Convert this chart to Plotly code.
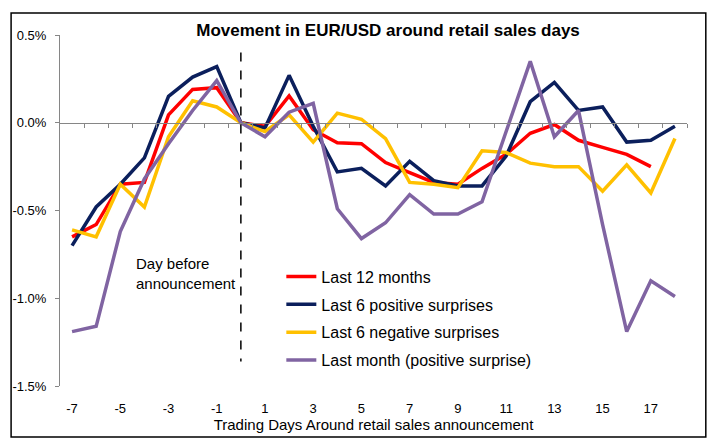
import plotly.graph_objects as go

days = list(range(-7, 19))
last_12_months = [-0.65, -0.58, -0.35, -0.34, 0.045, 0.19, 0.20, 0.0, -0.02, 0.153, -0.04, -0.114,
                  -0.119, -0.227, -0.284, -0.34, -0.35, -0.26, -0.18, -0.06, -0.01, -0.10, -0.14,
                  -0.18, -0.25, None]
last_6_positive = [-0.70, -0.48, -0.35, -0.20, 0.15, 0.26, 0.32, 0.0, -0.03, 0.27, -0.02, -0.28,
                   -0.26, -0.36, -0.22, -0.33, -0.36, -0.36, -0.19, 0.12, 0.23, 0.07, 0.09, -0.11,
                   -0.10, -0.02]
last_6_negative = [-0.61, -0.65, -0.35, -0.48, -0.08, 0.125, 0.09, 0.0, -0.05, 0.045, -0.11, 0.055,
                   0.02, -0.09, -0.34, -0.35, -0.37, -0.16, -0.17, -0.23, -0.25, -0.25, -0.39,
                   -0.24, -0.40, -0.09]
last_month = [-1.19, -1.16, -0.62, -0.32, -0.12, 0.07, 0.24, 0.0, -0.08, 0.06, 0.11, -0.49, -0.66,
              -0.57, -0.41, -0.52, -0.52, -0.45, -0.05, 0.35, -0.08, 0.07, -0.58, -1.19, -0.90, -0.99]

series = [
    ("Last 12 months", last_12_months, "#FF0000"),
    ("Last 6 positive surprises", last_6_positive, "#0B1F5C"),
    ("Last 6 negative surprises", last_6_negative, "#FFC000"),
    ("Last month (positive surprise)", last_month, "#8064A2"),
]

x_ticks = list(range(-7, 18, 2))
y_ticks = [0.5, 0.0, -0.5, -1.0, -1.5]
FONT = "Liberation Sans, Arial, sans-serif"

fig = go.Figure()
for i, (name, vals, color) in enumerate(series):
    fig.add_trace(go.Scatter(x=days, y=vals, name=name, mode="lines", legendgroup=f"g{i}",
                             line=dict(color=color, width=3.5), connectgaps=False))

# invisible trace on overlay axis for zero-line ticks
fig.add_trace(go.Scatter(x=[days[0]], y=[0], xaxis="x2", mode="markers",
                         marker=dict(opacity=0), showlegend=False, hoverinfo="skip"))

fig.update_layout(
    width=712, height=443,
    margin=dict(l=60, r=25, t=35, b=57),
    paper_bgcolor="white", plot_bgcolor="white",
    font=dict(family=FONT, size=14, color="#000000"),
    title=dict(text="<b>Movement in EUR/USD around retail sales days</b>",
               x=0.545, xanchor="center", y=0.932, yanchor="middle",
               font=dict(size=17, family=FONT, color="#000000")),
    showlegend=True,
    legend=dict(x=0.353, y=0.36, xanchor="left", yanchor="top",
                bgcolor="rgba(0,0,0,0)", font=dict(size=16, family=FONT),
                tracegroupgap=4, itemwidth=30),
    xaxis=dict(range=[-7.5, 18.5], tickmode="array", tickvals=x_ticks,
               ticktext=[str(v) for v in x_ticks], ticks="", showline=False,
               showgrid=False, zeroline=False, ticklabelstandoff=13,
               tickfont=dict(size=13),
               title=dict(text="Trading Days Around retail sales announcement",
                          font=dict(size=15), standoff=3)),
    xaxis2=dict(range=[-7.5, 18.5], overlaying="x", anchor="free", position=0.7493,
                tickmode="array", tickvals=[d + 0.5 for d in days],
                ticks="outside", ticklen=4, tickcolor="#868686", tickwidth=1,
                showticklabels=False, showline=True, linecolor="#868686", linewidth=1,
                showgrid=False, zeroline=False),
    yaxis=dict(range=[-1.5, 0.5], tickmode="array", tickvals=y_ticks,
               ticktext=[f"{v:.1f}%" for v in y_ticks], ticks="outside", ticklen=4,
               tickcolor="#868686", showline=True, linecolor="#868686", linewidth=1,
               showgrid=False, zeroline=False, tickfont=dict(size=13),
               ticklabelstandoff=6),
    shapes=[
        dict(type="line", xref="x", yref="y", x0=0, x1=0, y0=0.40, y1=-1.36,
             line=dict(color="#000000", width=1.5, dash="dash")),
        dict(type="rect", xref="paper", yref="paper", x0=-0.078, x1=1.030,
             y0=-0.145, y1=1.063, line=dict(color="#000000", width=1.5),
             fillcolor="rgba(0,0,0,0)", layer="below"),
    ],
    annotations=[
        dict(text="Day before<br>announcement", xref="x", yref="y", x=-4.45, y=-0.86,
             xanchor="left", yanchor="middle", align="left", showarrow=False,
             font=dict(size=15, family=FONT, color="#000000")),
    ],
)

fig.write_html("out.html", config={"displayModeBar": False},
               post_script="document.body.style.margin='0';")
